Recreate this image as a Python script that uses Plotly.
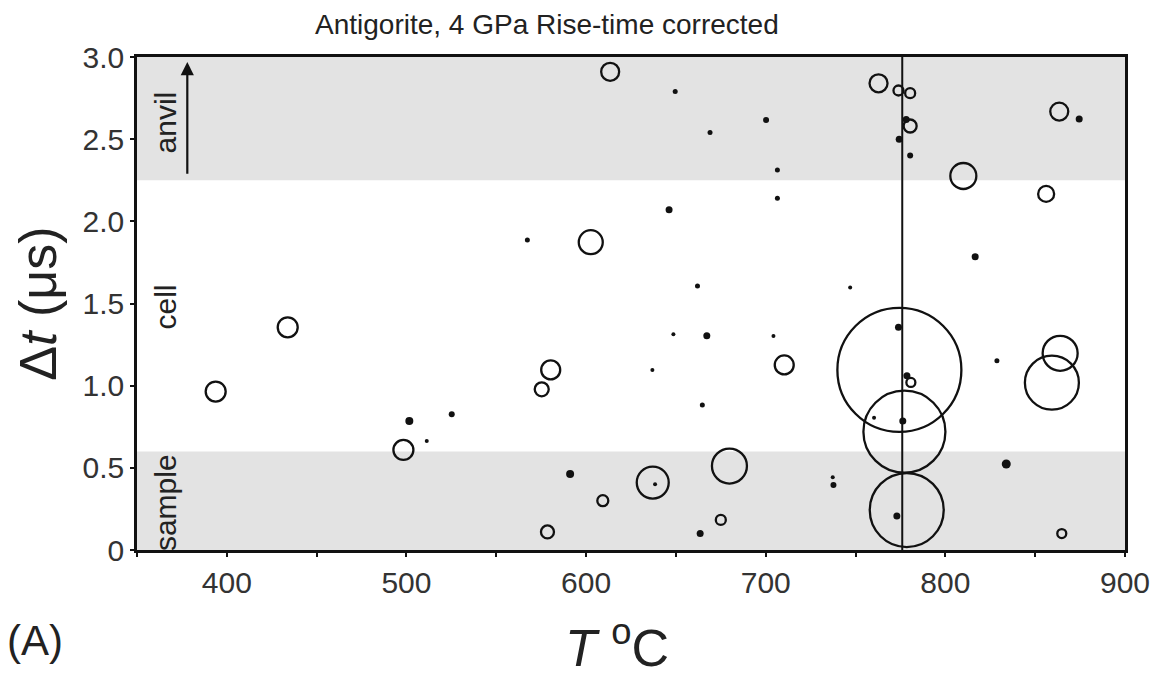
import plotly.graph_objects as go

# ---- data ----
# open circles: temperature (°C), delay (µs), symbol amplitude
T_open = [613.4, 602.6, 762.8, 773.9, 780.4, 780.4, 810.0, 863.4, 856.1,
          433.9, 393.8, 498.3, 710.3, 580.3, 575.3, 637.1, 679.8, 609.3,
          578.5, 675.0, 774.4, 777.2, 778.5, 780.8, 863.9, 859.3, 864.8]
dt_open = [2.91, 1.873, 2.84, 2.796, 2.78, 2.58, 2.276, 2.668, 2.167,
           1.355, 0.964, 0.609, 1.126, 1.096, 0.978, 0.41, 0.511, 0.30,
           0.11, 0.183, 1.096, 0.72, 0.243, 1.02, 1.197, 1.018, 0.10]
amp_open = [18, 24, 18, 10, 10, 13, 26, 18, 16,
            20, 20, 20, 19, 19, 14, 32, 35, 11,
            13, 10, 124, 82, 74, 9, 35, 54, 9]

# small filled symbols
T_dot = [649.6, 700.2, 669.0, 706.5, 706.5, 646.2, 567.3, 662.0, 778.2,
         774.3, 780.4, 874.5, 816.6, 747.0, 501.6, 525.2, 511.3, 648.6,
         667.2, 704.3, 636.9, 664.7, 591.1, 638.4, 663.5, 773.9, 778.6,
         760.3, 776.3, 828.7, 833.9, 737.7, 737.3, 773.0]
dt_dot = [2.79, 2.617, 2.54, 2.313, 2.14, 2.07, 1.887, 1.607, 2.62,
          2.50, 2.40, 2.623, 1.785, 1.597, 0.785, 0.826, 0.663, 1.313,
          1.304, 1.302, 1.096, 0.883, 0.463, 0.40, 0.10, 1.355, 1.06,
          0.805, 0.785, 1.152, 0.523, 0.396, 0.442, 0.207]
amp_dot = [5, 6, 5, 5, 5, 7, 5, 5, 7,
           7, 6, 7, 7, 4, 8, 6, 4, 4,
           7, 4, 4, 5, 8, 4, 7, 7, 7,
           4, 7, 5, 9, 6, 4, 7]

T_ref = 776.0          # vertical reference temperature
anvil_band = [2.25, 3.0]
sample_band = [0.0, 0.6]
x_ticks = [400, 500, 600, 700, 800, 900]
x_ticktext = ["400", "500", "600", "700", "800", "900"]
y_ticks = [0, 0.5, 1.0, 1.5, 2.0, 2.5, 3.0]
y_ticktext = ["0", "0.5", "1.0", "1.5", "2.0", "2.5", "3.0"]
region_labels = ["anvil", "cell", "sample"]
region_y = [2.6, 1.48, 0.29]

FONT = "Liberation Sans, Arial, sans-serif"
INK = "#111111"
TXT = "#222222"

fig = go.Figure()

fig.add_trace(go.Scatter(
    x=T_open, y=dt_open, mode="markers",
    marker=dict(size=amp_open, sizemode="diameter", color="rgba(0,0,0,0)",
                opacity=1,
                line=dict(color=INK, width=2.3), symbol="circle"),
    showlegend=False, hoverinfo="x+y"))

fig.add_trace(go.Scatter(
    x=T_dot, y=dt_dot, mode="markers",
    marker=dict(size=amp_dot, color=INK, opacity=1, line=dict(width=0)),
    showlegend=False, hoverinfo="x+y"))

# grey bands
for b in (anvil_band, sample_band):
    fig.add_shape(type="rect", xref="x domain", yref="y", x0=0, x1=1,
                  y0=b[0], y1=b[1], fillcolor="#e3e3e3",
                  line=dict(width=0), layer="below")

# vertical reference line
fig.add_shape(type="line", xref="x", yref="y", x0=T_ref, x1=T_ref,
              y0=0, y1=3.0, line=dict(color=INK, width=2))

# arrow in anvil band
fig.add_annotation(x=378, y=2.97, ax=378, ay=2.28, xref="x", yref="y",
                   axref="x", ayref="y", showarrow=True, arrowhead=2,
                   arrowsize=1.2, arrowwidth=2.2, arrowcolor=INK, text="")

for lab, yy in zip(region_labels, region_y):
    fig.add_annotation(x=366, y=yy, xref="x", yref="y", text=lab,
                       textangle=-90, showarrow=False,
                       font=dict(family=FONT, size=30, color=TXT))

fig.add_annotation(x=0.415, y=1.066, xref="paper", yref="paper",
                   text="Antigorite, 4 GPa Rise-time corrected",
                   showarrow=False, xanchor="center", yanchor="middle",
                   font=dict(family=FONT, size=28, color=TXT))

fig.add_annotation(x=-0.101, y=0.5, xref="paper", yref="paper",
                   text="Δ<i>t</i> (μs)", textangle=-90, showarrow=False,
                   xanchor="center", yanchor="middle",
                   font=dict(family=FONT, size=52, color=TXT))

fig.add_annotation(x=0.486, y=-0.19, xref="paper", yref="paper",
                   text="<i>T</i> <sup>o</sup>C", showarrow=False,
                   xanchor="center", yanchor="middle",
                   font=dict(family=FONT, size=52, color=TXT))

fig.add_annotation(x=-0.103, y=-0.183, xref="paper", yref="paper",
                   text="(A)", showarrow=False,
                   xanchor="center", yanchor="middle",
                   font=dict(family=FONT, size=42, color=TXT))

fig.update_xaxes(range=[350, 900], tickvals=x_ticks, ticktext=x_ticktext,
                 ticks="outside", ticklen=4, tickwidth=1.5, tickcolor=INK,
                 minor=dict(dtick=50, tick0=350, ticks="outside", ticklen=4,
                            tickcolor=INK, tickwidth=1.5),
                 showline=True, linewidth=2.5, linecolor=INK, mirror=True,
                 showgrid=False, zeroline=False,
                 tickfont=dict(family=FONT, size=30, color="#333"))
fig.update_yaxes(range=[0, 3.0], tickvals=y_ticks, ticktext=y_ticktext,
                 ticks="outside", ticklen=4, tickwidth=1.5, tickcolor=INK,
                 showline=True, linewidth=2.5, linecolor=INK, mirror=True,
                 showgrid=False, zeroline=False,
                 tickfont=dict(family=FONT, size=30, color="#333"))

fig.update_layout(width=1167, height=677, autosize=False,
                  margin=dict(l=129, r=50, t=49, b=135),
                  plot_bgcolor="white", paper_bgcolor="white",
                  showlegend=False)

fig.write_html("out.html")
